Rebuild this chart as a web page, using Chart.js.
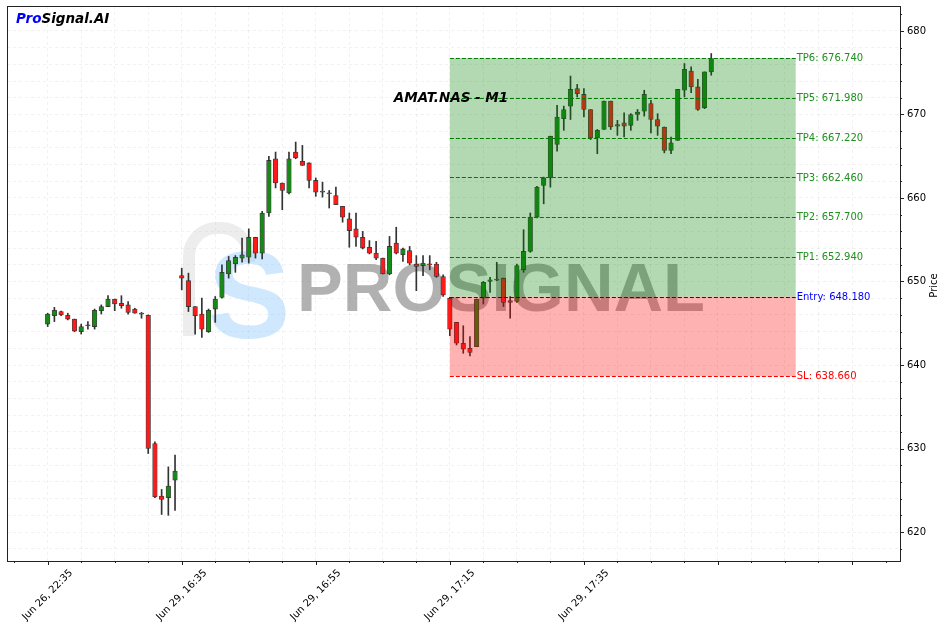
<!DOCTYPE html>
<html><head><meta charset="utf-8">
<script src="https://cdn.jsdelivr.net/npm/chart.js@4.4.0/dist/chart.umd.min.js"></script>
<style>html,body{margin:0;padding:0;background:#fff;overflow:hidden;}</style>
</head><body>
<canvas id="c" width="947" height="629" style="width:947px;height:629px;display:block"></canvas>
<script>
// ---- data (M1 candles, index 0..99) ----
const opens  = [644.9,645.9,646.4,645.95,645.5,644.0,644.8,644.6,646.5,647.0,
                647.9,647.4,647.2,646.7,646.2,645.95,630.6,624.3,624.1,626.2,
                650.7,650.1,647.0,646.1,644.0,646.7,648.1,650.9,652.1,652.8,
                652.9,655.3,653.4,658.2,664.7,661.8,660.6,665.5,664.4,664.2,
                662.1,660.7,660.6,660.3,659.0,657.5,656.3,655.3,654.1,653.4,
                652.8,650.9,654.6,653.2,653.7,652.1,651.9,652.1,652.1,650.6,
                648.0,645.1,642.6,642.0,642.2,648.0,650.0,650.15,650.4,647.7,
                647.6,651.4,653.6,657.7,661.5,662.4,666.4,669.5,671.0,673.1,
                672.4,670.6,667.2,668.2,671.6,668.6,669.0,668.7,670.0,670.4,
                671.3,669.4,668.5,665.7,666.9,672.9,675.2,673.3,670.8,675.1];
const highs  = [646.2,646.9,646.45,646.2,645.5,644.9,645.2,646.7,647.2,648.3,
                647.9,648.3,647.6,646.8,646.3,646.0,630.8,625.1,627.8,629.2,
                651.6,651.0,647.0,648.0,646.7,648.2,652.0,653.0,653.1,655.2,
                656.3,655.3,658.4,665.0,665.5,661.8,665.5,666.7,666.3,664.2,
                662.4,661.9,660.9,661.3,659.0,658.2,658.2,656.0,654.9,654.8,
                652.8,655.4,656.5,654.0,654.2,653.1,653.1,653.1,652.3,650.8,
                648.1,645.1,644.7,643.4,647.9,650.0,650.5,652.3,650.4,648.2,
                652.1,656.2,658.2,661.4,662.5,667.4,671.1,671.0,674.6,673.6,
                673.1,670.6,668.2,671.6,671.6,669.3,670.2,670.1,670.6,672.9,
                671.7,670.1,668.5,667.3,673.0,676.1,675.7,674.2,675.1,677.3];
const lows   = [644.6,645.2,645.9,645.4,644.0,643.7,644.3,644.3,646.1,647.0,
                646.5,646.8,646.1,646.2,645.6,629.4,624.1,622.1,622.0,622.6,
                649.0,646.4,643.7,643.3,643.9,645.1,648.0,650.4,651.1,652.3,
                652.2,652.8,652.7,657.8,661.2,658.6,660.5,664.7,663.9,661.2,
                660.2,660.1,658.8,659.2,657.1,654.1,654.2,653.9,653.3,652.6,
                650.9,650.8,653.3,652.4,652.0,648.9,650.7,651.4,650.5,648.2,
                643.5,642.4,641.4,641.1,642.2,647.3,648.7,650.1,647.0,645.6,
                647.5,651.1,653.5,657.6,659.3,661.3,665.6,668.1,669.4,672.1,
                669.7,667.0,665.3,668.2,668.2,667.5,667.3,668.1,669.3,669.8,
                667.8,667.5,665.4,665.3,666.9,672.1,672.6,670.5,670.7,674.7];
const closes = [646.1,646.55,646.0,645.5,644.05,644.6,644.7,646.55,647.0,647.9,
                647.3,647.1,646.3,646.2,646.1,630.0,624.2,623.9,625.5,627.3,
                650.4,647.0,645.9,644.3,646.55,647.9,651.1,652.5,652.9,653.2,
                655.3,653.4,658.2,664.5,661.8,660.9,664.7,664.8,663.9,662.1,
                660.7,660.75,660.5,659.2,657.7,656.1,655.3,654.0,653.4,652.8,
                650.9,654.2,653.4,653.9,652.2,651.8,652.2,652.0,650.6,648.4,
                644.3,642.6,641.9,641.5,647.9,649.9,650.2,650.3,647.5,647.5,
                651.9,653.6,657.7,661.3,662.4,667.4,669.7,670.6,673.0,672.5,
                670.6,667.2,668.1,671.6,668.5,668.8,668.6,670.0,670.3,672.4,
                669.4,668.6,665.7,666.6,673.0,675.4,673.3,670.6,675.1,676.7];

const tickIndex  = [0, 20, 40, 60, 80];
const tickLabels = ['Jun 26, 22:35', 'Jun 29, 16:35', 'Jun 29, 16:55', 'Jun 29, 17:15', 'Jun 29, 17:35'];

const tpNames  = ['TP1', 'TP2', 'TP3', 'TP4', 'TP5', 'TP6'];
const tpLevels = [652.94, 657.70, 662.46, 667.22, 671.98, 676.74];
const entryPrice = 648.18;
const slPrice = 638.66;
const zoneStart = 60;
const zoneEnd = 111.6;

const chartTitle = 'AMAT.NAS - M1';
const yTitle = 'Price';

// ---- scale limits ----
const xMin = -6.07, xMax = 127.16;
const yMin = 616.53, yMax = 682.99;

const FONT = '"DejaVu Sans", sans-serif';
const GREEN = '#168a16', RED = '#ff1a1a';

const idx = opens.map((_, i) => i);
const bodyData = idx.map(i => ({x: i, y: [opens[i], closes[i]]}));
const wickData = idx.map(i => ({x: i, y: [lows[i], highs[i]]}));
const bodyColors = idx.map(i => closes[i] >= opens[i] ? GREEN : RED);

function isMult(v, m) { return Math.abs(v / m - Math.round(v / m)) < 1e-6; }

const deco = {
  id: 'deco',
  beforeDraw(chart) {
    const ctx = chart.ctx;
    ctx.save(); ctx.fillStyle = '#fff'; ctx.fillRect(0, 0, chart.width, chart.height); ctx.restore();
  },
  beforeDatasetsDraw(chart) {
    const ctx = chart.ctx, a = chart.chartArea;
    ctx.save();
    // logo arch
    ctx.strokeStyle = 'rgba(190,190,190,0.28)';
    ctx.lineWidth = 12; ctx.lineCap = 'butt';
    ctx.beginPath();
    ctx.moveTo(a.left + 182, a.top + 330);
    ctx.lineTo(a.left + 182, a.top + 250);
    ctx.arcTo(a.left + 182, a.top + 222, a.left + 210, a.top + 222, 28);
    ctx.lineTo(a.left + 214, a.top + 222);
    ctx.arcTo(a.left + 242, a.top + 222, a.left + 242, a.top + 250, 28);
    ctx.lineTo(a.left + 242, a.top + 256);
    ctx.stroke();
    // blue S
    ctx.fillStyle = 'rgba(150,205,250,0.45)';
    ctx.font = 'bold 124px "Liberation Sans", sans-serif';
    ctx.textAlign = 'center'; ctx.textBaseline = 'alphabetic';
    ctx.fillText('S', a.left + 242, a.top + 332);
    // PROSIGNAL text
    ctx.font = 'bold 68px "Liberation Sans", sans-serif';
    let w = ctx.measureText('PROSIGNAL').width;
    const fs = 68 * 408 / w;
    ctx.font = 'bold ' + fs.toFixed(1) + 'px "Liberation Sans", sans-serif';
    ctx.fillStyle = 'rgba(125,125,125,0.6)';
    ctx.fillText('PROSIGNAL', a.left + 494, a.top + 305);
    ctx.restore();
  },
  afterDatasetsDraw(chart) {
    const ctx = chart.ctx, xs = chart.scales.x, ys = chart.scales.y;
    const x0 = xs.getPixelForValue(zoneStart), x1 = xs.getPixelForValue(zoneEnd);
    const yTop = ys.getPixelForValue(tpLevels[tpLevels.length - 1]);
    const yEn = ys.getPixelForValue(entryPrice), ySl = ys.getPixelForValue(slPrice);
    ctx.save();
    ctx.fillStyle = 'rgba(0,128,0,0.3)';
    ctx.fillRect(x0, yTop, x1 - x0, yEn - yTop);
    ctx.fillStyle = 'rgba(255,0,0,0.3)';
    ctx.fillRect(x0, yEn, x1 - x0, ySl - yEn);
    ctx.lineWidth = 1; ctx.setLineDash([4, 2]);
    function hline(p, color) {
      const y = Math.round(ys.getPixelForValue(p)) + 0.5;
      ctx.strokeStyle = color; ctx.beginPath(); ctx.moveTo(x0, y); ctx.lineTo(x1, y); ctx.stroke();
    }
    tpLevels.forEach(p => hline(p, '#007a00'));
    hline(entryPrice, '#0000ff');
    hline(slPrice, '#ff0000');
    ctx.setLineDash([]);
    ctx.font = '10px ' + FONT; ctx.textAlign = 'left'; ctx.textBaseline = 'middle';
    tpLevels.forEach((p, k) => {
      ctx.fillStyle = '#1f8f1f';
      ctx.fillText(tpNames[k] + ': ' + p.toFixed(3), x1 + 1, ys.getPixelForValue(p) + 0.5);
    });
    ctx.fillStyle = '#0000ff';
    ctx.fillText('Entry: ' + entryPrice.toFixed(3), x1 + 1, yEn + 0.5);
    ctx.fillStyle = '#ff0000';
    ctx.fillText('SL: ' + slPrice.toFixed(3), x1 + 1, ySl + 0.5);
    // chart title
    const a = chart.chartArea;
    ctx.fillStyle = '#000';
    ctx.font = 'italic bold 13.5px ' + FONT; ctx.textAlign = 'center'; ctx.textBaseline = 'alphabetic';
    ctx.fillText(chartTitle, a.left + 444, a.top + 95.5);
    // brand
    ctx.font = 'italic bold 13.5px ' + FONT; ctx.textAlign = 'left';
    ctx.fillStyle = '#0000ff';
    ctx.fillText('Pro', a.left + 9, a.top + 17);
    const pw = ctx.measureText('Pro').width;
    ctx.fillStyle = '#000';
    ctx.fillText('Signal.AI', a.left + 9 + pw, a.top + 17);
    ctx.restore();
  },
  afterDraw(chart) {
    const ctx = chart.ctx, a = chart.chartArea, xs = chart.scales.x, ys = chart.scales.y;
    ctx.save();
    ctx.strokeStyle = '#222'; ctx.lineWidth = 1;
    ctx.strokeRect(Math.round(a.left) + 0.5, Math.round(a.top) + 0.5, Math.round(a.right - a.left), Math.round(a.bottom - a.top));
    // x ticks
    ctx.beginPath();
    for (let v = Math.ceil(xMin / 5) * 5; v <= xMax; v += 5) {
      const px = Math.round(xs.getPixelForValue(v)) + 0.5;
      const len = isMult(v, 20) ? 4 : 2;
      ctx.moveTo(px, a.bottom); ctx.lineTo(px, a.bottom + len);
    }
    // y ticks
    for (let v = Math.ceil(yMin / 2) * 2; v <= yMax; v += 2) {
      const py = Math.round(ys.getPixelForValue(v)) + 0.5;
      const len = isMult(v, 10) ? 4 : 2;
      ctx.moveTo(a.right, py); ctx.lineTo(a.right + len, py);
    }
    ctx.stroke();
    // x labels rotated 45deg, centred on tick
    ctx.fillStyle = '#000'; ctx.font = '10px ' + FONT;
    ctx.textAlign = 'center'; ctx.textBaseline = 'middle';
    tickIndex.forEach((v, k) => {
      const px = xs.getPixelForValue(v);
      const w = ctx.measureText(tickLabels[k]).width;
      const bb = (w + 10) * Math.SQRT1_2;
      ctx.save();
      ctx.translate(px, a.bottom + 7 + bb / 2);
      ctx.rotate(-Math.PI / 4);
      ctx.fillText(tickLabels[k], 0, 0);
      ctx.restore();
    });
    // y title
    ctx.save();
    ctx.translate(a.right + 34.5, (a.top + a.bottom) / 2 + 2);
    ctx.rotate(-Math.PI / 2);
    ctx.fillText(yTitle, 0, 0);
    ctx.restore();
    ctx.restore();
  }
};

new Chart(document.getElementById('c'), {
  type: 'bar',
  data: {
    datasets: [
      { label: 'body', data: bodyData, backgroundColor: bodyColors, borderColor: 'rgba(35,35,35,0.85)',
        borderWidth: 0.8, borderSkipped: false, barThickness: 4.6, grouped: false, order: 0, minBarLength: 1 },
      { label: 'wick', data: wickData, backgroundColor: '#333', borderWidth: 0,
        barThickness: 1, grouped: false, order: 1 }
    ]
  },
  options: {
    responsive: false, animation: false, devicePixelRatio: 1,
    layout: { padding: { left: 7, top: 6, right: 0, bottom: 0 } },
    plugins: { legend: { display: false }, tooltip: { enabled: false }, title: { display: false } },
    scales: {
      x: {
        type: 'linear', min: xMin, max: xMax, offset: false,
        afterBuildTicks(s) { s.ticks = s.ticks.filter(t => isMult(t.value, 5)); },
        afterFit(s) { s.height = 68; s.paddingLeft = 0; s.paddingRight = 0; },
        ticks: { display: false, stepSize: 5, autoSkip: false },
        grid: { color: 'rgba(0,0,0,0.055)', drawTicks: false, offset: false, lineWidth: 1 },
        border: { display: false, dash: [3, 3] }
      },
      y: {
        position: 'right', min: yMin, max: yMax,
        afterBuildTicks(s) { s.ticks = s.ticks.filter(t => isMult(t.value, 2)); },
        afterFit(s) { s.width = 47; s.paddingTop = 0; s.paddingBottom = 0; },
        ticks: { stepSize: 2, autoSkip: false, padding: 7, color: '#000',
                 font: { family: 'DejaVu Sans', size: 10 },
                 callback: v => isMult(v, 10) ? String(Math.round(v)) : '' },
        grid: { color: 'rgba(0,0,0,0.055)', drawTicks: false, lineWidth: 1 },
        border: { display: false, dash: [3, 3] }
      }
    }
  },
  plugins: [deco]
});
</script>
</body></html>
